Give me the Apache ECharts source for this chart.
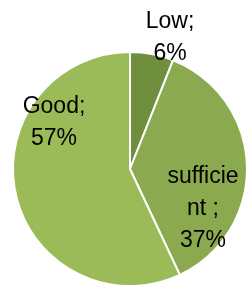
<!DOCTYPE html>
<html>
<head>
<meta charset="utf-8">
<script src="https://cdn.jsdelivr.net/npm/echarts@6/dist/echarts.min.js"></script>
<style>
  html, body { margin: 0; padding: 0; background: #fff; }
  #chart { width: 249px; height: 291px; }
</style>
</head>
<body>
<div id="chart"></div>
<script>
var categories = ["Low", "sufficient", "Good"];
var values = [6, 37, 57];
var sliceColors = ["#6f8e3e", "#8baa50", "#9bbb59"];
// label boxes (centre) as placed in the original
var labelPos = [[170, 38], [203, 209], [54, 123]];

var chart = echarts.init(document.getElementById("chart"));

var option = {
  animation: false,
  series: [
    {
      type: "pie",
      center: [130, 169],
      radius: 117,
      startAngle: 90,
      clockwise: true,
      data: categories.map(function (c, i) {
        return { name: c, value: values[i], itemStyle: { color: sliceColors[i] } };
      }),
      itemStyle: { borderColor: "#fff", borderWidth: 2 },
      label: {
        show: true,
        position: "inside",
        color: "#000",
        fontFamily: "Liberation Sans",
        fontSize: 23,
        lineHeight: 32,
        align: "center",
        formatter: function (p) {
          var name = p.name;
          if (name === "sufficient") {
            // word is broken in the original
            return "sufficie\nnt ;\n" + p.value + "%";
          }
          return name + ";\n" + p.value + "%";
        }
      },
      labelLine: { show: false },
      labelLayout: function (params) {
        var pos = labelPos[params.dataIndex];
        return { x: pos[0], y: pos[1], align: "center", verticalAlign: "middle" };
      },
      emphasis: { disabled: true }
    }
  ]
};

chart.setOption(option);
</script>
</body>
</html>
